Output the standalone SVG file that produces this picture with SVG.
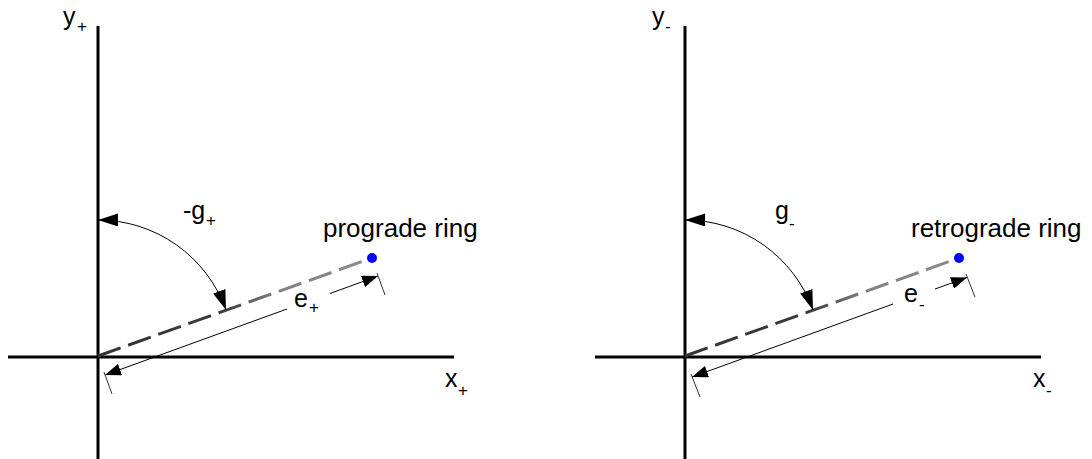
<svg xmlns="http://www.w3.org/2000/svg" width="1092" height="459" viewBox="0 0 1092 459">
<style>
.axis{stroke:#000;stroke-width:3;fill:none}
.thin{stroke:#000;stroke-width:1;fill:none}
.ext{stroke:#333;stroke-width:1;fill:none}
.dash{stroke:url(#fade);stroke-width:3;fill:none;stroke-dasharray:24 8}
.dot{fill:#0000ff}
text{font-family:"Liberation Sans",Arial,sans-serif;fill:#000}
.lbl{font-size:25px}
.ring{font-size:26px}
.sub{font-size:17px}
</style>
<defs>
<marker id="ah" markerUnits="userSpaceOnUse" markerWidth="20" markerHeight="13" refX="20" refY="6.5" orient="auto-start-reverse">
<path d="M0,0 L20,6.5 L0,13 z" fill="#000"/>
</marker>
<marker id="ah2" markerUnits="userSpaceOnUse" markerWidth="16" markerHeight="12" refX="16" refY="6" orient="auto-start-reverse">
<path d="M0,0 L16,6 L0,12 z" fill="#000"/>
</marker>
<linearGradient id="fade" gradientUnits="userSpaceOnUse" x1="98" y1="356" x2="372" y2="258">
<stop offset="0" stop-color="#333"/>
<stop offset="0.45" stop-color="#3a3a3a"/>
<stop offset="0.65" stop-color="#808080"/>
<stop offset="1" stop-color="#8c8c8c"/>
</linearGradient>
<linearGradient id="fade2" gradientUnits="userSpaceOnUse" x1="685" y1="356" x2="959" y2="258">
<stop offset="0" stop-color="#333"/>
<stop offset="0.45" stop-color="#3a3a3a"/>
<stop offset="0.65" stop-color="#808080"/>
<stop offset="1" stop-color="#8c8c8c"/>
</linearGradient>
</defs>

<!-- Left panel: prograde -->
<g id="axes-plus">
<line class="axis" x1="98" y1="26" x2="98" y2="459"/>
<line class="axis" x1="8" y1="357" x2="454" y2="357"/>
<text class="lbl" x="63" y="25">y<tspan class="sub" x="77" y="32">+</tspan></text>
<text class="lbl" x="445" y="387">x<tspan class="sub" x="458" y="396">+</tspan></text>
</g>
<g id="connectors-plus">
<line class="dash" x1="98" y1="356" x2="372" y2="258"/>
<path class="thin" d="M98,220 A136,136 0 0 1 226,310" marker-start="url(#ah)" marker-end="url(#ah)"/>
<line class="thin" x1="105" y1="375" x2="287" y2="309" marker-start="url(#ah2)"/>
<line class="thin" x1="330" y1="293.5" x2="378" y2="276" marker-end="url(#ah2)"/>
<line class="ext" x1="377" y1="273" x2="385" y2="295"/>
<line class="ext" x1="104" y1="372" x2="112" y2="394"/>
</g>
<g id="ring-plus">
<circle class="dot" cx="372" cy="258" r="5"/>
<text class="ring" x="323" y="237">prograde ring</text>
</g>
<g id="label-g-plus">
<text class="lbl" x="183" y="219">-g<tspan class="sub" x="206" y="226">+</tspan></text>
</g>
<g id="label-e-plus">
<text class="lbl" x="294" y="307">e<tspan class="sub" x="309" y="313">+</tspan></text>
</g>

<!-- Right panel: retrograde -->
<g id="axes-minus">
<line class="axis" x1="685" y1="26" x2="685" y2="459"/>
<line class="axis" x1="595" y1="357" x2="1041" y2="357"/>
<text class="lbl" x="652" y="25">y<tspan class="sub" x="665" y="32">-</tspan></text>
<text class="lbl" x="1033" y="387">x<tspan class="sub" x="1046" y="396">-</tspan></text>
</g>
<g id="connectors-minus">
<line class="dash" style="stroke:url(#fade2)" x1="685" y1="356" x2="959" y2="258"/>
<path class="thin" d="M685,220 A136,136 0 0 1 813,310" marker-start="url(#ah)" marker-end="url(#ah)"/>
<line class="thin" x1="692" y1="377" x2="893" y2="304" marker-start="url(#ah2)"/>
<line class="thin" x1="935" y1="289" x2="967" y2="277.5" marker-end="url(#ah2)"/>
<line class="ext" x1="966" y1="274" x2="975" y2="297"/>
<line class="ext" x1="691" y1="374" x2="700" y2="397"/>
</g>
<g id="ring-minus">
<circle class="dot" cx="959" cy="258" r="5"/>
<text class="ring" x="911" y="237">retrograde ring</text>
</g>
<g id="label-g-minus">
<text class="lbl" x="775" y="219">g<tspan class="sub" x="789" y="229">-</tspan></text>
</g>
<g id="label-e-minus">
<text class="lbl" x="904" y="302">e<tspan class="sub" x="919" y="310">-</tspan></text>
</g>
</svg>
